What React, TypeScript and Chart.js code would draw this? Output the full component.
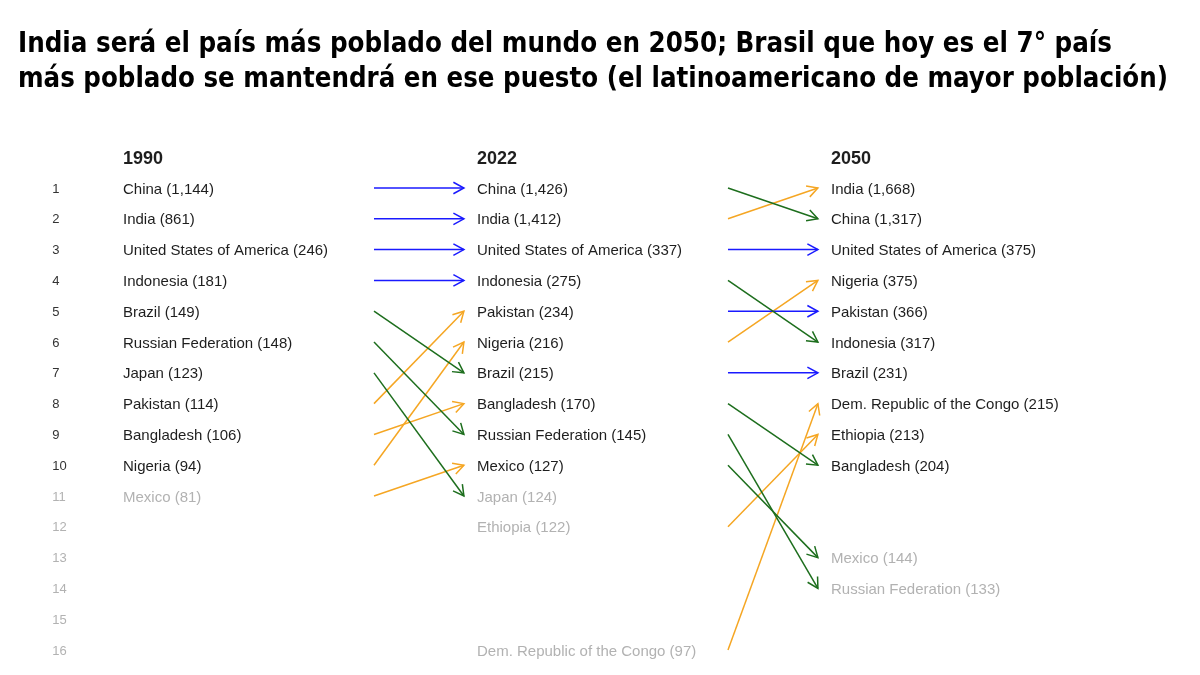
import React, { useEffect, useLayoutEffect, useRef } from "react";
import { Chart, registerables } from "chart.js";

Chart.register(...registerables);

// ---------- data ----------
const TITLE_LINES = [
  "India será el país más poblado del mundo en 2050; Brasil que hoy es el 7° país",
  "más poblado se mantendrá en ese puesto (el latinoamericano de mayor población)",
];
const YEARS = ["1990", "2022", "2050"];
const RANKS = [1, 2, 3, 4, 5, 6, 7, 8, 9, 10, 11, 12, 13, 14, 15, 16];

const COUNTRIES_1990 = ["China", "India", "United States of America", "Indonesia", "Brazil", "Russian Federation", "Japan", "Pakistan", "Bangladesh", "Nigeria", "Mexico"];
const POP_1990 = ["1,144", "861", "246", "181", "149", "148", "123", "114", "106", "94", "81"];
const RANK_1990 = [1, 2, 3, 4, 5, 6, 7, 8, 9, 10, 11];

const COUNTRIES_2022 = ["China", "India", "United States of America", "Indonesia", "Pakistan", "Nigeria", "Brazil", "Bangladesh", "Russian Federation", "Mexico", "Japan", "Ethiopia", "Dem. Republic of the Congo"];
const POP_2022 = ["1,426", "1,412", "337", "275", "234", "216", "215", "170", "145", "127", "124", "122", "97"];
const RANK_2022 = [1, 2, 3, 4, 5, 6, 7, 8, 9, 10, 11, 12, 16];

const COUNTRIES_2050 = ["India", "China", "United States of America", "Nigeria", "Pakistan", "Indonesia", "Brazil", "Dem. Republic of the Congo", "Ethiopia", "Bangladesh", "Mexico", "Russian Federation"];
const POP_2050 = ["1,668", "1,317", "375", "375", "366", "317", "231", "215", "213", "204", "144", "133"];
const RANK_2050 = [1, 2, 3, 4, 5, 6, 7, 8, 9, 10, 13, 14];

const TOP_N = 10;

// ---------- styles / layout ----------
const COL_UP = "#f5a623";
const COL_DOWN = "#1d6e1d";
const COL_SAME = "#1a1aff";
const TXT_DARK = "#1e1e1e";
const TXT_GREY = "#b2b2b2";
const LABEL_FONT = '15px "Liberation Sans", Arial, sans-serif';
const HEAD_FONT = 'bold 18px "Liberation Sans", Arial, sans-serif';
const RANK_FONT = '13px "Liberation Sans", Arial, sans-serif';
const RANK_COL_X = -0.2; // x-position of the rank numbers (in column units)
const ARROW_FROM = 0.709; // arrow start offset after a column
const ARROW_TO = 0.963; // arrow end offset
const HEADER_ROW = 0;
const TEXT_DY = 1.5;

const columns = [
  { names: COUNTRIES_1990, pops: POP_1990, ranks: RANK_1990 },
  { names: COUNTRIES_2022, pops: POP_2022, ranks: RANK_2022 },
  { names: COUNTRIES_2050, pops: POP_2050, ranks: RANK_2050 },
];

function buildArrows() {
  const out: any[] = [];
  for (let c = 0; c < columns.length - 1; c++) {
    const a = columns[c];
    const b = columns[c + 1];
    a.names.forEach((n, i) => {
      const j = b.names.indexOf(n);
      if (j < 0) return;
      const r0 = a.ranks[i];
      const r1 = b.ranks[j];
      const color = r1 < r0 ? COL_UP : r1 > r0 ? COL_DOWN : COL_SAME;
      out.push({
        label: n + " " + YEARS[c] + "-" + YEARS[c + 1],
        data: [
          { x: c + ARROW_FROM, y: r0 },
          { x: c + ARROW_TO, y: r1 },
        ],
        borderColor: color,
        backgroundColor: color,
        borderWidth: 1.5,
        pointRadius: 0,
        showLine: true,
        tension: 0,
      });
    });
  }
  return out;
}

const arrowHeadPlugin = {
  id: "arrowHeads",
  afterDatasetsDraw(chart: any) {
    const ctx = chart.ctx;
    ctx.save();
    chart.data.datasets.forEach((ds: any, i: number) => {
      const meta = chart.getDatasetMeta(i);
      const p0 = meta.data[0];
      const p1 = meta.data[1];
      if (!p0 || !p1) return;
      const ang = Math.atan2(p1.y - p0.y, p1.x - p0.x);
      const len = 12;
      const spread = 0.5;
      ctx.strokeStyle = ds.borderColor;
      ctx.lineWidth = 1.5;
      ctx.beginPath();
      ctx.moveTo(p1.x - len * Math.cos(ang - spread), p1.y - len * Math.sin(ang - spread));
      ctx.lineTo(p1.x, p1.y);
      ctx.lineTo(p1.x - len * Math.cos(ang + spread), p1.y - len * Math.sin(ang + spread));
      ctx.stroke();
    });
    ctx.restore();
  },
};

const labelsPlugin = {
  id: "rankLabels",
  afterDraw(chart: any) {
    const { ctx } = chart;
    const x = chart.scales.x;
    const y = chart.scales.y;
    ctx.save();
    ctx.textBaseline = "middle";
    ctx.textAlign = "left";
    // rank numbers
    ctx.font = RANK_FONT;
    RANKS.forEach((r) => {
      ctx.fillStyle = r <= TOP_N ? "#333333" : TXT_GREY;
      ctx.fillText(String(r), x.getPixelForValue(RANK_COL_X), y.getPixelForValue(r) + 1);
    });
    // headers
    ctx.font = HEAD_FONT;
    ctx.fillStyle = TXT_DARK;
    YEARS.forEach((yr, c) => {
      ctx.fillText(yr, x.getPixelForValue(c), y.getPixelForValue(HEADER_ROW) + TEXT_DY);
    });
    // country labels
    ctx.font = LABEL_FONT;
    columns.forEach((col, c) => {
      col.names.forEach((n, i) => {
        const r = col.ranks[i];
        ctx.fillStyle = r <= TOP_N ? TXT_DARK : TXT_GREY;
        ctx.fillText(n + " (" + col.pops[i] + ")", x.getPixelForValue(c), y.getPixelForValue(r) + TEXT_DY);
      });
    });
    ctx.restore();
  },
};

const TITLE_TARGETS = [1094, 1150];

export default function App() {
  const canvasRef = useRef<HTMLCanvasElement | null>(null);
  const titleRefs = useRef<(HTMLSpanElement | null)[]>([]);

  useLayoutEffect(() => {
    titleRefs.current.forEach((el, i) => {
      if (!el) return;
      el.style.transform = "none";
      const w = el.getBoundingClientRect().width;
      if (w > 0) el.style.transform = `scaleX(${TITLE_TARGETS[i] / w})`;
    });
  }, []);

  useEffect(() => {
    if (!canvasRef.current) return;
    const chart = new Chart(canvasRef.current, {
      type: "scatter",
      data: { datasets: buildArrows() },
      options: {
        responsive: false,
        animation: false,
        events: [],
        layout: { padding: 0 },
        plugins: { legend: { display: false }, tooltip: { enabled: false }, title: { display: false } },
        scales: {
          x: { type: "linear", display: false, min: -0.3475, max: 3.0424 },
          y: { type: "linear", display: false, reverse: true, min: -5.104, max: 16.81 },
        },
      },
      plugins: [arrowHeadPlugin, labelsPlugin],
    } as any);
    return () => chart.destroy();
  }, []);

  return (
    <div style={{ position: "absolute", left: 0, top: 0, width: 1200, height: 675, background: "#fff", overflow: "hidden" }}>
      <canvas ref={canvasRef} width={1200} height={675} style={{ position: "absolute", left: 0, top: 0, width: 1200, height: 675 }} />
      {TITLE_LINES.map((t, i) => (
        <span
          key={i}
          ref={(el) => {
            titleRefs.current[i] = el;
          }}
          style={{
            position: "absolute",
            left: 18,
            top: 29 + i * 35,
            whiteSpace: "nowrap",
            fontFamily: '"DejaVu Sans Condensed", "DejaVu Sans", sans-serif',
            fontWeight: "bold",
            fontSize: 28,
            lineHeight: "28px",
            color: "#000",
            transformOrigin: "0 0",
            display: "inline-block",
          }}
        >
          {t}
        </span>
      ))}
    </div>
  );
}
